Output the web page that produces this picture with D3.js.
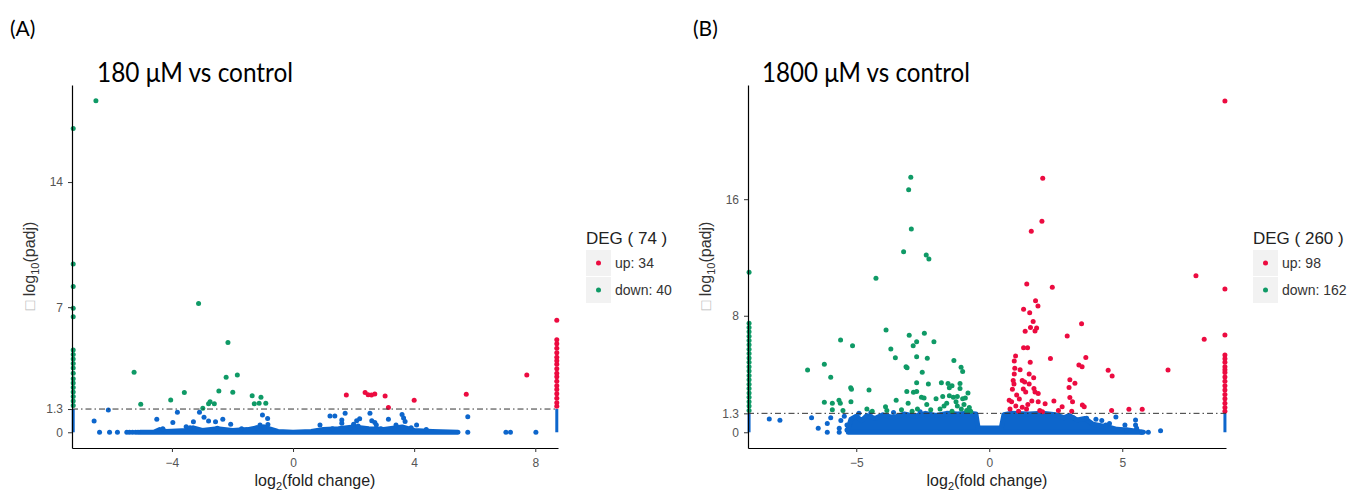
<!DOCTYPE html>
<html>
<head>
<meta charset="utf-8">
<script src="https://cdn.jsdelivr.net/npm/d3@7"></script>
<style>
  body { margin: 0; background: #fff; }
  svg { display: block; }
</style>
</head>
<body>
<svg id="chart" width="1359" height="492"></svg>
<script>
// ---------- panel A : 180 uM vs control ----------
const aUp = [[1.76,2.09],[2.38,2.22],[2.48,2.1],[2.59,2.08],[2.7,2.14],[3.04,2.03],[3.15,1.38],[4.0,1.79],[5.72,2.13],[7.72,3.21]];
const aDown = [[-6.51,18.55],[-3.12,7.2],[-2.15,5.02],[-5.25,3.36],[-2.21,3.08],[-1.84,3.21],[-3.59,2.22],[-2.45,2.31],
  [-1.99,2.24],[-4.04,1.81],[-5.03,1.57],[-1.35,2.05],[-1.06,1.96],[-2.74,1.71],[-2.79,1.6],[-2.6,1.6],[-2.98,1.34],
  [-1.28,1.6],[-1.12,1.62],[-0.9,1.62]];
const aNs = [[-6.57,0.63],[-6.1,1.25],[-4.5,0.73],[-3.97,0.54],[-3.82,1.12],[-3.53,0.31],[-3.29,0.59],[-3.09,1.12],
  [-2.94,0.84],[-2.79,0.63],[-2.56,0.59],[-2.32,0.73],[-2.06,0.45],[-1.09,0.41],[-1.01,0.97],[-0.84,0.77],[-0.83,0.43],
  [0.89,0.41],[1.22,0.91],[1.38,0.91],[1.61,0.69],[1.61,0.5],[1.72,1.06],[2.0,0.45],[2.1,0.65],[2.2,0.75],[2.15,0.35],
  [2.54,1.06],[2.6,0.65],[2.7,0.55],[2.75,0.4],[3.15,0.73],[3.4,0.41],[3.6,1.0],[3.65,0.8],[3.7,0.6],[4.08,0.41],[5.77,0.87],
  [-4.3,0.2],[-3.4,0.25],[-2.5,0.22],[-1.7,0.2],[-1.2,0.25],[-0.95,0.3],[1.3,0.2],[1.9,0.25],[2.9,0.2],[3.9,0.25],[4.4,0.15],
  [-6.39,0],[-6.06,0],[-5.8,0],[-5.49,0],[-5.4,0],[-5.3,0],[-5.2,0],[-5.12,0],[5.77,0],[7.03,0],[7.18,0],[8.02,0]];
// points piled at the axis limits (y values only)
const aDownEdge = [17.0,9.42,8.15,6.94,6.47,4.6,4.35,4.1,3.85,3.6,3.3,3.0,2.75,2.5,2.25,2.0,1.75,1.5];
const aUpEdge = [6.27,5.17,4.95,4.7,4.45,4.2,4.0,3.8,3.55,3.3,3.1,2.85,2.6,2.4,2.15,1.9,1.65,1.45];
const aNsEdge = [0, 1.3];
// outline of the dense non-significant cloud [log2FC, top]
const aNsBand = [[-5.05,0],[-4.6,0],[-4.4,0.15],[-4.2,0.05],[-3.5,0.1],[-3.3,0.25],[-3.0,0.1],[-2.5,0.2],[-2.0,0.1],
  [-1.5,0.15],[-1.0,0.3],[-0.8,0.2],[-0.5,0.05],[0,0],[0.6,0.05],[1.0,0.15],[1.5,0.2],[2.0,0.3],[2.5,0.2],[3.0,0.15],
  [3.6,0.3],[4.0,0.1],[4.6,0.05],[5.45,0]];
const aTicksX = [-4, 0, 4, 8];
const aTicksY = [0, 1.3, 7, 14];
const aCounts = {total: 74, up: 34, down: 40};

// ---------- panel B : 1800 uM vs control ----------
const bUp = [[2.01,17.43],[1.98,14.48],[1.58,13.8],[1.41,10.18],[2.37,9.95],[7.77,10.75],[1.74,9.03],[1.83,8.67],
  [1.29,8.44],[1.52,8.21],[1.65,7.6],[1.55,7.2],[1.78,7.15],[1.72,6.95],[1.35,6.93],[3.47,7.45],[2.93,6.61],[8.08,6.38],
  [1.29,5.8],[1.44,5.8],[0.99,5.24],[0.94,4.9],[0.96,4.4],[1.54,4.8],[2.3,5.07],[3.63,5.14],[3.37,4.62],[3.49,4.5],
  [6.72,4.28],[1.16,4.3],[4.47,4.25],[4.62,3.86],[0.94,4.0],[1.5,4.0],[1.67,3.75],[1.24,3.55],[1.33,3.45],[0.9,3.55],
  [0.93,3.31],[1.5,3.31],[1.68,3.0],[1.72,2.77],[1.84,2.66],[1.28,2.97],[1.37,2.77],[0.87,2.95],[3.03,3.6],[3.0,3.07],
  [3.22,3.37],[1.03,2.56],[1.13,2.29],[0.84,2.1],[1.24,1.71],[1.84,2.1],[2.43,2.15],[2.74,1.76],[3.03,2.38],[3.13,2.1],
  [3.5,1.88],[3.57,1.76],[4.6,1.49],[5.25,1.58],[5.75,1.58],[0.78,1.6],[1.0,1.8],[1.4,1.6],[1.9,1.5],[2.6,1.5],
  [3.1,1.45],[0.75,2.2],[2.1,1.95],[1.6,2.15],[1.45,1.9],[2.0,1.4],[1.1,1.45]];
const bDown = [[-2.95,17.5],[-3.03,16.65],[-2.93,13.95],[-3.22,12.4],[-2.37,12.17],[-2.27,11.9],[-4.26,10.57],
  [-3.88,7.02],[-3.01,6.66],[-2.44,6.79],[-2.08,6.22],[-5.59,6.34],[-5.14,5.94],[-3.7,5.72],[-2.73,6.22],[-2.86,5.94],
  [-3.53,5.12],[-2.73,5.19],[-2.33,5.08],[-6.2,4.67],[-6.83,4.28],[-1.33,4.92],[-3.13,4.5],[-3.09,4.43],[-1.06,4.46],
  [-1.0,4.17],[-2.52,4.12],[-5.96,3.78],[-2.73,3.4],[-2.29,3.31],[-1.8,3.4],[-1.55,3.35],[-1.4,3.2],[-1.5,3.05],
  [-1.1,3.35],[-1.1,3.0],[-5.21,3.05],[-5.18,2.95],[-4.52,2.9],[-3.1,2.8],[-2.85,2.75],[-2.73,2.8],[-2.55,2.4],
  [-2.45,2.35],[-2.0,2.3],[-1.75,2.45],[-1.5,2.5],[-1.35,2.4],[-1.2,2.45],[-1.0,2.3],[-0.9,2.35],[-0.8,2.7],
  [-6.2,2.06],[-5.9,2.0],[-5.65,2.2],[-5.6,2.0],[-5.2,2.1],[-5.9,1.55],[-5.5,1.5],[-4.6,1.6],[-3.9,1.75],[-3.85,1.5],
  [-3.5,2.2],[-3.05,2.0],[-2.7,1.6],[-2.2,1.55],[-1.7,1.8],[-1.2,1.8],[-1.05,1.6],[-0.95,1.9],[-0.85,1.5],[-0.7,1.45],
  [-1.4,1.45],[-1.6,2.0],[-2.9,1.45],[-3.3,1.55],[-4.4,1.45],[-1.25,2.1],[-0.75,1.7],[-1.85,1.6],[-2.35,1.9]];
const bNs = [[-8.27,0.91],[-7.87,0.82],[-6.68,1.0],[-6.43,0.27],[-6.09,0],[-6.09,0.6],[-5.96,1.0],[-5.64,0.27],
  [-5.64,0],[-5.58,0.8],[-5.35,0.5],[-5.35,0.15],[-5.45,1.1],[-4.9,1.3],[-4.45,1.35],[-3.6,1.35],[-2.6,1.4],
  [3.16,1.0],[3.66,0.96],[4.01,0.89],[4.23,0.8],[4.38,0.5],[4.52,0.6],
  [4.76,1.05],[5.1,0.5],[5.16,0.16],[5.5,0.84],[5.5,0.5],[5.54,0.27],[5.73,0],[5.98,0],[6.44,0.11]];
const bDownEdge = [10.98,7.48,7.2,6.9,6.6,6.3,6.0,5.7,5.4,5.1,4.8,4.5,4.2,3.9,3.6,3.3,3.0,2.7,2.4,2.1,1.8,1.5];
const bUpEdge = [22.74,9.84,6.68,5.3,5.05,4.8,4.5,4.3,4.1,3.8,3.5,3.2,2.9,2.6,2.3,2.0,1.7,1.45];
const bNsEdge = [0, 1.3];
const bNsBand = [[-5.3,0.3],[-5.2,0.9],[-5.0,1.1],[-4.8,0.8],[-4.6,1.15],[-4.3,0.95],[-4.0,1.2],[-3.6,1.0],
  [-3.2,1.25],[-2.8,1.1],[-2.4,1.3],[-2.0,1.15],[-1.6,1.3],[-1.2,1.25],[-0.8,1.3],[-0.5,1.25],[-0.42,0.3],[0.45,0.3],
  [0.55,1.2],[0.8,1.3],[1.5,1.25],[2.0,1.3],[2.5,1.2],[2.8,1.0],[3.0,1.15],[3.3,0.85],[3.6,0.95],[3.9,0.55],[4.2,0.45],
  [4.5,0.35],[4.8,0.2],[5.2,0.15],[5.6,0.05],[5.8,0]];
const bTicksX = [-5, 0, 5];
const bTicksY = [0, 1.3, 8, 16];
const bCounts = {total: 260, up: 98, down: 162};

const threshold = 1.3;
const colUp = "#ec0b40", colDown = "#0f9a66", colNs = "#0d66cc";
const sans = "Liberation Sans, Arial, sans-serif";

const svg = d3.select("#chart");

function drawPanel(o) {
  const x = d3.scaleLinear().domain(o.xDom).range([o.left, o.right]);
  const y = d3.scaleLinear().domain(o.yDom).range([448, 85]);
  const g = svg.append("g");

  // dense cloud of non-significant genes
  const area = d3.area().x(d => x(d[0])).y0(y(0)).y1(d => y(d[1]));
  g.append("path").datum(o.band)
    .attr("d", area)
    .attr("fill", colNs)
    .attr("stroke", colNs)
    .attr("stroke-width", 5)
    .attr("stroke-linejoin", "round");

  // columns of points squeezed at the x limits
  const edgeX = [o.xDom[0] + o.edgeIn, o.xDom[1] - o.edgeIn];
  edgeX.forEach(ex => {
    g.append("line")
      .attr("x1", x(ex)).attr("x2", x(ex))
      .attr("y1", y(o.nsEdge[0])).attr("y2", y(o.nsEdge[1]))
      .attr("stroke", colNs).attr("stroke-width", 3);
  });

  const dot = (data, col) => g.append("g").selectAll("circle").data(data).join("circle")
    .attr("cx", d => x(d[0])).attr("cy", d => y(d[1])).attr("r", 2.5).attr("fill", col);

  dot(o.ns, colNs);
  dot(o.downEdge.map(v => [edgeX[0], v]), colDown);
  dot(o.upEdge.map(v => [edgeX[1], v]), colUp);
  dot(o.down, colDown);
  dot(o.up, colUp);

  // padj threshold
  g.append("line")
    .attr("x1", o.left).attr("x2", o.right)
    .attr("y1", y(threshold)).attr("y2", y(threshold))
    .attr("stroke", "#333").attr("stroke-width", 1)
    .attr("stroke-dasharray", "6,3,1.5,3");

  // axes
  const ax = g.append("g").attr("transform", "translate(0,448)")
    .call(d3.axisBottom(x).tickValues(o.ticksX).tickFormat(d3.format("d")).tickSize(4).tickSizeOuter(0).tickPadding(6));
  const ay = g.append("g").attr("transform", `translate(${o.left},0)`)
    .call(d3.axisLeft(y).tickValues(o.ticksY).tickFormat(d => d).tickSize(4).tickSizeOuter(0).tickPadding(5));
  [ax, ay].forEach(a => {
    a.select(".domain").attr("stroke", "#000").attr("stroke-width", 1.2);
    a.selectAll(".tick line").attr("stroke", "#333");
    a.selectAll(".tick text").attr("fill", "#555")
      .attr("font-family", sans).attr("font-size", 12);
  });

  // axis titles
  const xt = g.append("text")
    .attr("x", (o.left + o.right) / 2).attr("y", 486)
    .attr("text-anchor", "middle").attr("fill", "#222")
    .attr("font-family", sans).attr("font-size", 16);
  xt.append("tspan").text("log");
  xt.append("tspan").text("2").attr("font-size", 11).attr("dy", 4);
  xt.append("tspan").text("(fold change)").attr("dy", -4);

  const yt = g.append("text")
    .attr("transform", `translate(${o.left - 37},266) rotate(-90)`)
    .attr("text-anchor", "middle").attr("fill", "#333")
    .attr("font-family", sans).attr("font-size", 16);
  yt.append("tspan").text("\u25A1 ").attr("fill", "#bbb");
  yt.append("tspan").text("log");
  yt.append("tspan").text("10").attr("font-size", 11).attr("dy", 4);
  yt.append("tspan").text("(padj)").attr("dy", -4);

  // panel title and letter
  g.append("text").text(o.title)
    .attr("x", o.titleX).attr("y", 82)
    .attr("textLength", o.titleW).attr("lengthAdjust", "spacingAndGlyphs")
    .attr("font-family", "Lato, Open Sans, sans-serif").attr("font-size", 27).attr("fill", "#000");
  g.append("text").text(o.letter)
    .attr("x", o.letterX).attr("y", 36)
    .attr("font-family", "Lato, Open Sans, sans-serif").attr("font-size", 21).attr("fill", "#000");

  // legend
  const lg = g.append("g").attr("transform", `translate(${o.legX},0)`);
  lg.append("text").text(`DEG ( ${o.counts.total} )`)
    .attr("x", 0).attr("y", 244)
    .attr("font-family", sans).attr("font-size", 17).attr("fill", "#222");
  const keys = [["up: " + o.counts.up, colUp], ["down: " + o.counts.down, colDown]];
  keys.forEach((k, i) => {
    const ky = 250 + i * 27;
    lg.append("rect").attr("x", 0).attr("y", ky).attr("width", 25).attr("height", 26).attr("fill", "#f2f2f2");
    lg.append("circle").attr("cx", 12.5).attr("cy", ky + 13).attr("r", 2.5).attr("fill", k[1]);
    lg.append("text").text(k[0]).attr("x", 29).attr("y", ky + 18)
      .attr("font-family", sans).attr("font-size", 14).attr("fill", "#333");
  });
}

drawPanel({
  xDom: [-7.3, 8.75], yDom: [-0.88, 19.43], left: 72, right: 558, edgeIn: 0.04,
  up: aUp, down: aDown, ns: aNs, upEdge: aUpEdge, downEdge: aDownEdge, nsEdge: aNsEdge, band: aNsBand,
  ticksX: aTicksX, ticksY: aTicksY, counts: aCounts,
  title: "180 \u03BCM vs control", titleX: 97, titleW: 196, letter: "(A)", letterX: 10, legX: 586
});
drawPanel({
  xDom: [-9.07, 8.9], yDom: [-1.08, 23.84], left: 748, right: 1226, edgeIn: 0.04,
  up: bUp, down: bDown, ns: bNs, upEdge: bUpEdge, downEdge: bDownEdge, nsEdge: bNsEdge, band: bNsBand,
  ticksX: bTicksX, ticksY: bTicksY, counts: bCounts,
  title: "1800 \u03BCM vs control", titleX: 762, titleW: 208, letter: "(B)", letterX: 693, legX: 1253
});
</script>
</body>
</html>
